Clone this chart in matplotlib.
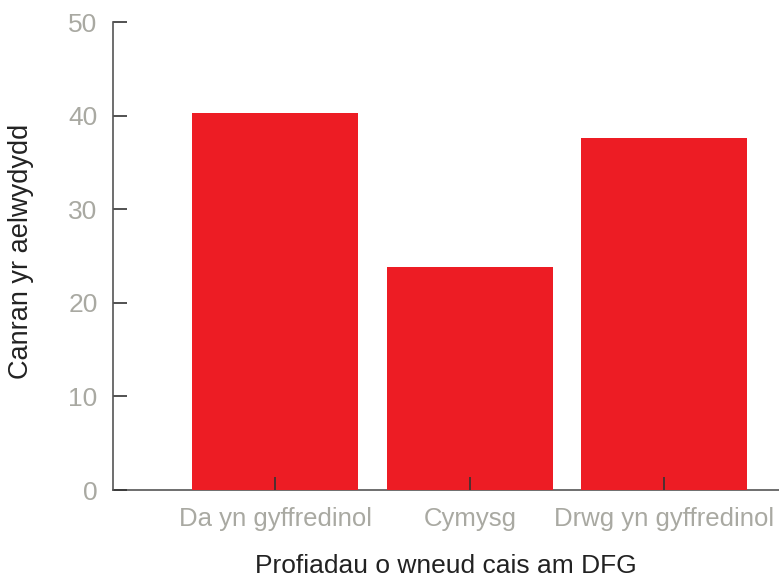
import matplotlib
matplotlib.use('Agg')
import matplotlib.pyplot as plt

plt.rcParams['font.family'] = ['Liberation Sans', 'DejaVu Sans']

# data
categories = ['Da yn gyffredinol', 'Cymysg', 'Drwg yn gyffredinol']
values = [40.3, 23.8, 37.6]
y_ticks = [0, 10, 20, 30, 40, 50]

BAR_COLOR = '#ED1C24'
TICK_TX = '#a9a9a2'
SPINE = '#555555'

fig = plt.figure(figsize=(7.79, 5.79), dpi=100)
ax = fig.add_axes([0.145, 0.1537, 0.855, 0.8083])

x = list(range(len(categories)))
ax.bar(x, values, width=0.855, color=BAR_COLOR, zorder=1)

ax.set_xlim(-0.835, 2.59)
ax.set_ylim(0, 50)
ax.set_yticks(y_ticks)
ax.set_xticks(x)
ax.set_xticklabels(categories)

for s in ['top', 'right']:
    ax.spines[s].set_visible(False)
for s in ['left', 'bottom']:
    ax.spines[s].set_color(SPINE)
    ax.spines[s].set_linewidth(1.2)
ax.spines['bottom'].set_zorder(0.5)

ax.tick_params(axis='y', direction='in', length=10, width=1.2, color='#333333',
               labelsize=19, labelcolor=TICK_TX, pad=11)
ax.tick_params(axis='x', direction='in', length=9.5, width=1.2, color='#333333',
               labelsize=18.5, labelcolor=TICK_TX, pad=12)

ax.set_xlabel('Profiadau o wneud cais am DFG', fontsize=19, color='#222222', labelpad=17)
ax.set_ylabel('Canran yr aelwydydd', fontsize=19.5, color='#222222')
ax.yaxis.set_label_coords(-0.118, 0.51)

fig.savefig('out.png', dpi=100)
plt.close()
